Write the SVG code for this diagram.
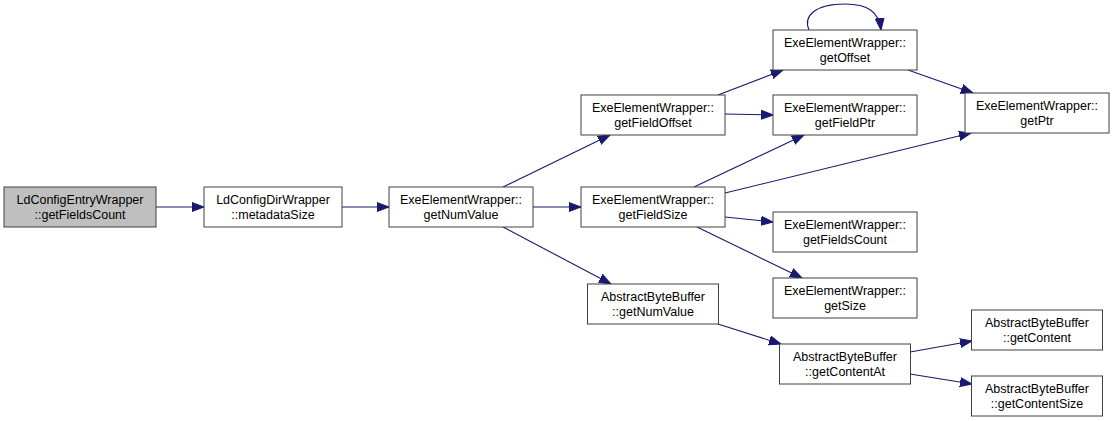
<svg xmlns="http://www.w3.org/2000/svg" width="1115" height="421" viewBox="0 0 1115 421">
<style>
.n rect{fill:#ffffff;stroke:#404040;stroke-width:1}
.n.root rect{fill:#bfbfbf}
.n text{font-family:"Liberation Sans",Arial,Helvetica,sans-serif;font-size:12.5px;fill:#000000;text-anchor:middle}
.e path{fill:none;stroke:#191970;stroke-width:1.1;marker-end:url(#arr)}
</style>
<defs>
<marker id="arr" markerWidth="13" markerHeight="11" refX="12" refY="5" orient="auto" markerUnits="userSpaceOnUse">
<path d="M0,0.5 L12,5 L0,9.5 Z" fill="#191970" stroke="#191970" stroke-width="1"/>
</marker>
</defs>
<rect width="1115" height="421" fill="#ffffff"/>
<g id="connectors" class="e">
<path d="M156,207 L204,207"/>
<path d="M342,207 L389,207"/>
<path d="M503,187 L610,135"/>
<path d="M533,207 L581,207"/>
<path d="M503,227 L611,284"/>
<path d="M718,95 L783,70"/>
<path d="M725,114 L773,115"/>
<path d="M694,187 L804,135"/>
<path d="M725,193 L971,133"/>
<path d="M725,217 L773,222"/>
<path d="M697,227 L802,278"/>
<path d="M718,324 L781,344"/>
<path d="M910,352 L972,341"/>
<path d="M910,374 L972,384"/>
<path d="M809,30 C803,16 815,4 845,4 C868,4 879,12 881,30"/>
<path d="M908,70 L973,93"/>
</g>
<g id="n1" class="n root"><rect x="4" y="187" width="152" height="40"/><text x="80" y="203.5">LdConfigEntryWrapper</text><text x="80" y="218.5">::getFieldsCount</text></g>
<g id="n2" class="n"><rect x="204" y="187" width="138" height="40"/><text x="273" y="203.5">LdConfigDirWrapper</text><text x="273" y="218.5">::metadataSize</text></g>
<g id="n3" class="n"><rect x="389" y="187" width="144" height="40"/><text x="461" y="203.5">ExeElementWrapper::</text><text x="461" y="218.5">getNumValue</text></g>
<g id="n4" class="n"><rect x="581" y="95" width="144" height="40"/><text x="653" y="111.5">ExeElementWrapper::</text><text x="653" y="126.5">getFieldOffset</text></g>
<g id="n5" class="n"><rect x="581" y="187" width="144" height="40"/><text x="653" y="203.5">ExeElementWrapper::</text><text x="653" y="218.5">getFieldSize</text></g>
<g id="n6" class="n"><rect x="587.5" y="284" width="131" height="40"/><text x="653" y="300.5">AbstractByteBuffer</text><text x="653" y="315.5">::getNumValue</text></g>
<g id="n7" class="n"><rect x="773" y="30" width="144" height="40"/><text x="845" y="46.5">ExeElementWrapper::</text><text x="845" y="61.5">getOffset</text></g>
<g id="n8" class="n"><rect x="773" y="95" width="144" height="40"/><text x="845" y="111.5">ExeElementWrapper::</text><text x="845" y="126.5">getFieldPtr</text></g>
<g id="n9" class="n"><rect x="965" y="93" width="144" height="40"/><text x="1037" y="109.5">ExeElementWrapper::</text><text x="1037" y="124.5">getPtr</text></g>
<g id="n10" class="n"><rect x="773" y="212" width="144" height="40"/><text x="845" y="228.5">ExeElementWrapper::</text><text x="845" y="243.5">getFieldsCount</text></g>
<g id="n11" class="n"><rect x="773" y="278" width="144" height="40"/><text x="845" y="294.5">ExeElementWrapper::</text><text x="845" y="309.5">getSize</text></g>
<g id="n12" class="n"><rect x="779.5" y="344" width="131" height="40"/><text x="845" y="360.5">AbstractByteBuffer</text><text x="845" y="375.5">::getContentAt</text></g>
<g id="n13" class="n"><rect x="971.5" y="310" width="131" height="40"/><text x="1037" y="326.5">AbstractByteBuffer</text><text x="1037" y="341.5">::getContent</text></g>
<g id="n14" class="n"><rect x="971.5" y="376" width="131" height="40"/><text x="1037" y="392.5">AbstractByteBuffer</text><text x="1037" y="407.5">::getContentSize</text></g>
</svg>
